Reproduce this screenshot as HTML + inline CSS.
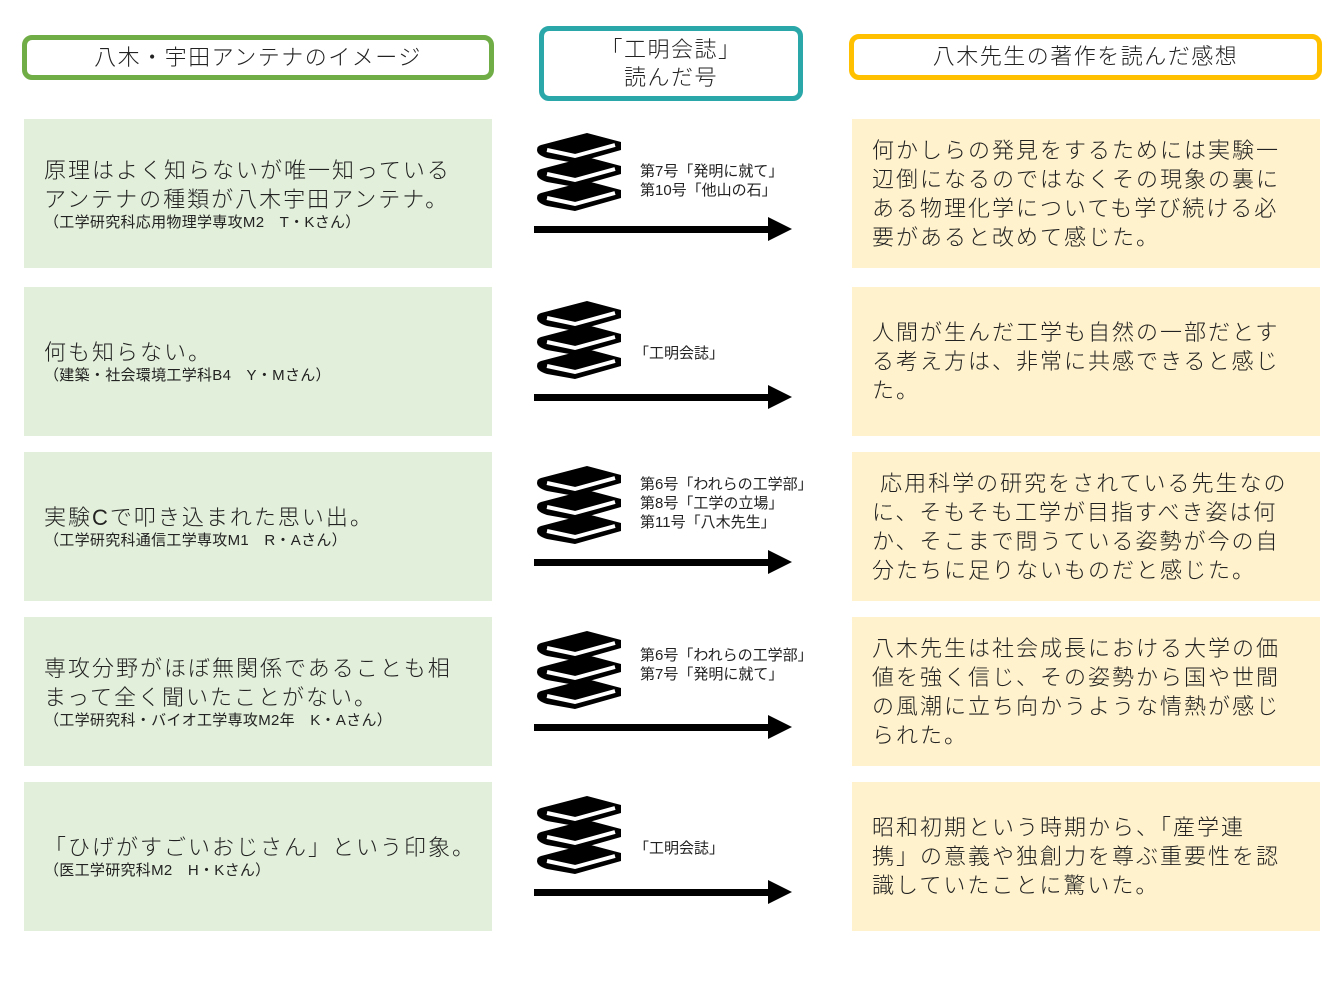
<!DOCTYPE html>
<html><head><meta charset="utf-8"><style>
body{margin:0;width:1344px;height:1008px;background:#fff;position:relative;overflow:hidden;font-family:"Liberation Sans","Noto Sans CJK JP",sans-serif;color:#222;}
.a{position:absolute;box-sizing:border-box;}
.hd{border-width:5px;border-style:solid;border-radius:10px;background:#fff;display:flex;align-items:center;justify-content:center;text-align:center;font-size:22px;line-height:28px;font-weight:300;letter-spacing:1.5px;}
.L{background:#e2efda;left:24px;width:468px;height:149px;padding-left:20px;display:flex;flex-direction:column;justify-content:center;white-space:nowrap;}
.R{background:#fff2cc;left:852px;width:468px;height:149px;padding:0 20px;display:flex;flex-direction:column;justify-content:center;font-size:22px;line-height:29px;letter-spacing:2px;font-weight:300;white-space:nowrap;}
.m{font-size:22px;line-height:29px;letter-spacing:2px;font-weight:300;}
.s{font-size:15px;line-height:18px;letter-spacing:0.3px;}
.t{font-size:15px;line-height:19px;left:640px;}
</style></head><body>
<div class="a hd" style="left:22px;top:35px;width:472px;height:45px;border-color:#70ad47;">八木・宇田アンテナのイメージ</div>
<div class="a hd" style="left:539px;top:26px;width:264px;height:75px;border-color:#2aa7a8;">「工明会誌」<br>読んだ号</div>
<div class="a hd" style="left:849px;top:34px;width:473px;height:46px;border-color:#ffc000;">八木先生の著作を読んだ感想</div>

<div class="a L" style="top:119px;"><div class="m">原理はよく知らないが唯一知っている<br>アンテナの種類が八木宇田アンテナ。</div><div class="s">（工学研究科応用物理学専攻M2　T・Kさん）</div></div>
<div class="a L" style="top:287px;"><div class="m">何も知らない。</div><div class="s">（建築・社会環境工学科B4　Y・Mさん）</div></div>
<div class="a L" style="top:452px;"><div class="m">実験Cで叩き込まれた思い出。</div><div class="s">（工学研究科通信工学専攻M1　R・Aさん）</div></div>
<div class="a L" style="top:617px;"><div class="m">専攻分野がほぼ無関係であることも相<br>まって全く聞いたことがない。</div><div class="s">（工学研究科・バイオ工学専攻M2年　K・Aさん）</div></div>
<div class="a L" style="top:782px;"><div class="m">「ひげがすごいおじさん」という印象。</div><div class="s">（医工学研究科M2　H・Kさん）</div></div>

<div class="a R" style="top:119px;">何かしらの発見をするためには実験一<br>辺倒になるのではなくその現象の裏に<br>ある物理化学についても学び続ける必<br>要があると改めて感じた。</div>
<div class="a R" style="top:287px;">人間が生んだ工学も自然の一部だとす<br>る考え方は、非常に共感できると感じ<br>た。</div>
<div class="a R" style="top:452px;">&nbsp;応用科学の研究をされている先生なの<br>に、そもそも工学が目指すべき姿は何<br>か、そこまで問うている姿勢が今の自<br>分たちに足りないものだと感じた。</div>
<div class="a R" style="top:617px;">八木先生は社会成長における大学の価<br>値を強く信じ、その姿勢から国や世間<br>の風潮に立ち向かうような情熱が感じ<br>られた。</div>
<div class="a R" style="top:782px;">昭和初期という時期から、「産学連<br>携」の意義や独創力を尊ぶ重要性を認<br>識していたことに驚いた。</div>

<svg class="a" style="left:0;top:0" width="1344" height="1008">
<defs>
<g id="one"><path d="M4,12 L50,0 L84,9 L84,17 L38,30 L10,25 Q0,22 0,17 Q0,13 4,12 Z" fill="#000"/><path d="M10,17 L38,23 L78,12" stroke="#fff" stroke-width="4" fill="none"/></g>
<g id="bk"><use href="#one"/><use href="#one" y="24"/><use href="#one" y="48"/></g>
<g id="ar"><rect x="534" y="-3" width="240" height="7" fill="#000"/><polygon points="768,-12 792,0 768,12" fill="#000"/></g>
</defs>
<use href="#bk" x="537" y="133"/><use href="#ar" y="229"/>
<use href="#bk" x="537" y="301"/><use href="#ar" y="397"/>
<use href="#bk" x="537" y="466"/><use href="#ar" y="562"/>
<use href="#bk" x="537" y="631"/><use href="#ar" y="727"/>
<use href="#bk" x="537" y="796"/><use href="#ar" y="892"/>
</svg>
<div class="a t" style="top:162px;">第7号「発明に就て」<br>第10号「他山の石」</div>
<div class="a t" style="top:344px;left:634px;">「工明会誌」</div>
<div class="a t" style="top:475px;">第6号「われらの工学部」<br>第8号「工学の立場」<br>第11号「八木先生」</div>
<div class="a t" style="top:646px;">第6号「われらの工学部」<br>第7号「発明に就て」</div>
<div class="a t" style="top:839px;left:634px;">「工明会誌」</div>
</body></html>
